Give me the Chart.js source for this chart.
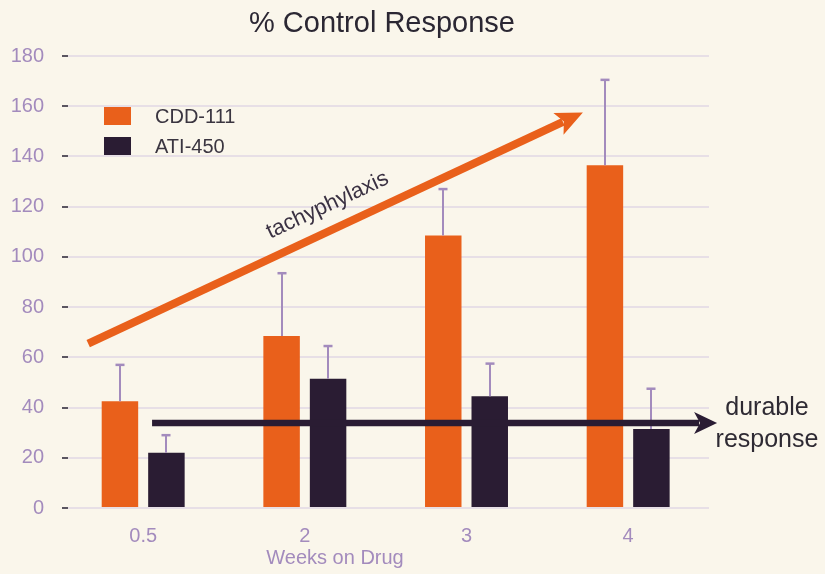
<!DOCTYPE html>
<html><head><meta charset="utf-8">
<script src="https://cdn.jsdelivr.net/npm/chart.js@4/dist/chart.umd.min.js"></script>
<style>html,body{margin:0;padding:0;background:#faf6eb;}#wrap{width:825px;height:574px;}</style>
</head><body><div id="wrap"><canvas id="c" width="825" height="574"></canvas></div>
<script>
const categories = ['0.5', '2', '3', '4'];
const cddValues = [42.5, 68.5, 108.5, 136.5];
const cddErrTop = [57, 93.5, 127, 170.5];
const atiValues = [22, 51.5, 44.5, 31.5];
const atiErrTop = [29, 64.5, 57.5, 47.5];
const yTicks = [0, 20, 40, 60, 80, 100, 120, 140, 160, 180];
// annotation arrows in data coords (category index, value)
const tachyArrow = {from: [-0.34, 65.5], to: [2.72, 157.5]};
const tachyLabel = [1.14, 120.5];
const durableArrow = {from: [0.055, 33.8], to: [3.55, 33.8]};

const purple = '#a38bbd';
const orange = '#e9601b';
const dark = '#2a1c33';
const FONT = '"Liberation Sans", Arial, sans-serif';

const overlay = {
  id: 'overlay',
  beforeDraw(chart) {
    const c = chart.ctx;
    c.save(); c.fillStyle = '#faf6eb'; c.fillRect(0, 0, chart.width, chart.height); c.restore();
  },
  afterDatasetsDraw(chart) {
    const c = chart.ctx, x = chart.scales.x, y = chart.scales.y;
    c.save();
    // error bars
    [[0, cddErrTop, cddValues], [1, atiErrTop, atiValues]].forEach(([di, tops, vals]) => {
      const meta = chart.getDatasetMeta(di);
      meta.data.forEach((bar, i) => {
        const px = Math.round(bar.x), y0 = y.getPixelForValue(vals[i]), y1 = y.getPixelForValue(tops[i]);
        c.strokeStyle = purple; c.lineWidth = 2;
        c.beginPath(); c.moveTo(px, y0); c.lineTo(px, y1); c.stroke();
        c.beginPath(); c.moveTo(px - 4.5, y1); c.lineTo(px + 4.5, y1); c.lineWidth = 2.5; c.stroke();
      });
    });
    const P = (p) => [x.getPixelForValue(p[0]), y.getPixelForValue(p[1])];
    function arrow(a, color, lw, hl, hw) {
      const [x0, y0] = P(a.from), [x1, y1] = P(a.to);
      const ang = Math.atan2(y1 - y0, x1 - x0);
      const bx = x1 - hl * Math.cos(ang), by = y1 - hl * Math.sin(ang);
      c.strokeStyle = color; c.fillStyle = color; c.lineWidth = lw; c.lineCap = 'butt';
      c.beginPath(); c.moveTo(x0, y0); c.lineTo(bx + 2 * Math.cos(ang), by + 2 * Math.sin(ang)); c.stroke();
      c.beginPath(); c.moveTo(x1, y1);
      c.lineTo(bx - hw / 2 * Math.sin(ang) - 3 * Math.cos(ang), by + hw / 2 * Math.cos(ang) - 3 * Math.sin(ang));
      c.lineTo(bx + 3 * Math.cos(ang), by + 3 * Math.sin(ang));
      c.lineTo(bx + hw / 2 * Math.sin(ang) - 3 * Math.cos(ang), by - hw / 2 * Math.cos(ang) - 3 * Math.sin(ang));
      c.closePath(); c.fill();
      return ang;
    }
    const ang = arrow(tachyArrow, orange, 8, 24, 24);
    arrow(durableArrow, dark, 6.5, 20, 22);
    // tachyphylaxis label
    const [lx, ly] = P(tachyLabel);
    c.save();
    c.translate(lx, ly);
    c.rotate(ang);
    c.fillStyle = '#3a3142'; c.font = '22px ' + FONT;
    c.textAlign = 'center'; c.textBaseline = 'middle';
    c.fillText('tachyphylaxis', 0, 0);
    c.restore();
    // durable response
    c.fillStyle = '#2e2a33'; c.font = '25px ' + FONT;
    c.textAlign = 'center'; c.textBaseline = 'middle';
    c.fillText('durable', 767, 408);
    c.fillText('response', 767, 440);
    // title
    c.fillStyle = '#2b2733'; c.font = '29px ' + FONT;
    c.fillText('% Control Response', 382, 24);
    // x axis title
    c.fillStyle = purple; c.font = '20px ' + FONT;
    c.fillText('Weeks on Drug', 335, 558);
    // legend
    const items = [['CDD-111', orange, 116], ['ATI-450', dark, 146]];
    items.forEach(([t, col, cy]) => {
      c.fillStyle = col; c.fillRect(104, cy - 9, 27, 18);
      c.fillStyle = '#3a3540'; c.font = '20px ' + FONT;
      c.textAlign = 'left'; c.fillText(t, 155, cy + 1);
    });
    c.restore();
  }
};

new Chart(document.getElementById('c'), {
  type: 'bar',
  data: {
    datasets: [
      {label: 'CDD-111', data: cddValues.map((v, i) => ({x: i, y: v})), backgroundColor: orange, categoryPercentage: 0.575, barPercentage: 0.785},
      {label: 'ATI-450', data: atiValues.map((v, i) => ({x: i, y: v})), backgroundColor: dark, categoryPercentage: 0.575, barPercentage: 0.785}
    ]
  },
  options: {
    responsive: false, animation: false,
    layout: {padding: {top: 56, right: 116, bottom: 0, left: 0}},
    plugins: {legend: {display: false}, title: {display: false}, tooltip: {enabled: false}},
    scales: {
      x: {
        type: 'linear', min: -0.465, max: 3.5, offset: false,
        afterBuildTicks(s) { s.ticks = categories.map((_, i) => ({value: i})); },
        grid: {display: false, drawTicks: false},
        border: {display: false},
        ticks: {color: purple, font: {size: 20, family: FONT}, padding: 16, callback: (v) => categories[v]},
        afterFit(s) { s.height = 66; }
      },
      y: {
        min: 0, max: 180,
        afterBuildTicks(s) { s.ticks = yTicks.map(v => ({value: v})); },
        grid: {color: '#e7dfe6', lineWidth: 2, tickLength: 6, tickColor: '#5a5560', tickWidth: 2},
        border: {display: false},
        ticks: {color: purple, font: {size: 20, family: FONT}, padding: 18},
        afterFit(s) { s.width = 68; }
      }
    }
  },
  plugins: [overlay]
});
</script></body></html>
